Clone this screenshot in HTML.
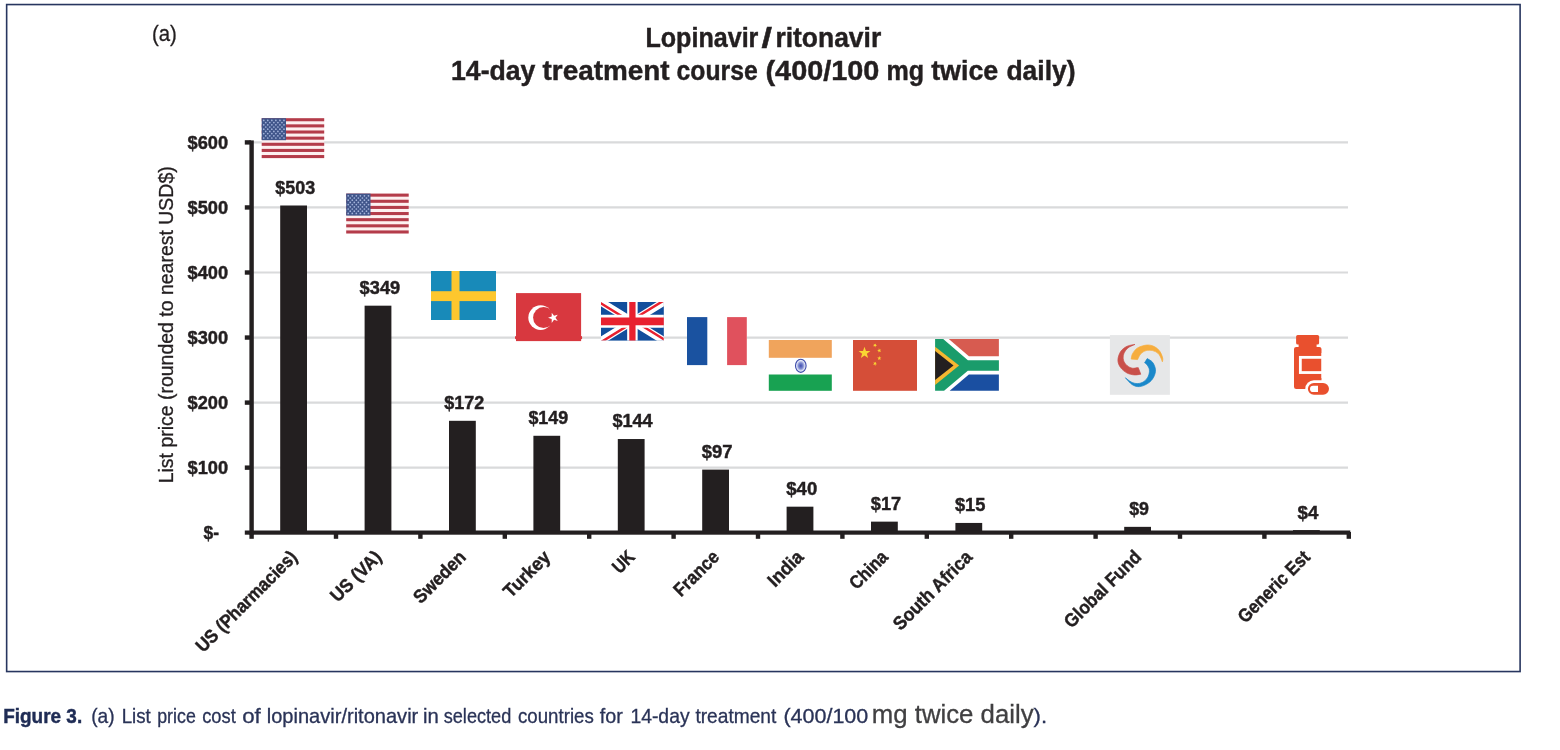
<!DOCTYPE html>
<html lang="en"><head><meta charset="utf-8">
<title>Figure 3. Lopinavir/ritonavir list price</title>
<style>
html,body{margin:0;padding:0;background:#fff;}
body{width:1560px;height:750px;overflow:hidden;}
svg{display:block;}
text{font-family:"Liberation Sans",sans-serif;}
.b{font-weight:bold;stroke-width:0.45px;}
</style></head><body>
<svg width="1560" height="750" viewBox="0 0 1560 750">
<rect x="0" y="0" width="1560" height="750" fill="#fff"/>
<rect x="6.65" y="4.55" width="1513.45" height="667" fill="none" stroke="#27365f" stroke-width="1.6"/>
<g stroke="#d9dadb" stroke-width="2.2">
<line x1="252" y1="467.65" x2="1348" y2="467.65"/>
<line x1="252" y1="402.60" x2="1348" y2="402.60"/>
<line x1="252" y1="337.55" x2="1348" y2="337.55"/>
<line x1="252" y1="272.50" x2="1348" y2="272.50"/>
<line x1="252" y1="207.45" x2="1348" y2="207.45"/>
<line x1="252" y1="142.40" x2="1348" y2="142.40"/>
</g>
<g transform="translate(261.7,118.2)">
<rect width="62.5" height="39.9" fill="#fdf0f0"/>
<rect y="0.00" width="62.5" height="3.07" fill="#b43c4a"/>
<rect y="6.14" width="62.5" height="3.07" fill="#b43c4a"/>
<rect y="12.28" width="62.5" height="3.07" fill="#b43c4a"/>
<rect y="18.42" width="62.5" height="3.07" fill="#b43c4a"/>
<rect y="24.55" width="62.5" height="3.07" fill="#b43c4a"/>
<rect y="30.69" width="62.5" height="3.07" fill="#b43c4a"/>
<rect y="36.83" width="62.5" height="3.07" fill="#b43c4a"/>
<rect width="24.3" height="22.0" fill="#40558a"/>
<g fill="#a3b3da">
<circle cx="2.02" cy="2.20" r="0.85"/>
<circle cx="6.07" cy="2.20" r="0.85"/>
<circle cx="10.12" cy="2.20" r="0.85"/>
<circle cx="14.17" cy="2.20" r="0.85"/>
<circle cx="18.22" cy="2.20" r="0.85"/>
<circle cx="22.27" cy="2.20" r="0.85"/>
<circle cx="4.05" cy="4.40" r="0.85"/>
<circle cx="8.10" cy="4.40" r="0.85"/>
<circle cx="12.15" cy="4.40" r="0.85"/>
<circle cx="16.20" cy="4.40" r="0.85"/>
<circle cx="20.25" cy="4.40" r="0.85"/>
<circle cx="2.02" cy="6.60" r="0.85"/>
<circle cx="6.07" cy="6.60" r="0.85"/>
<circle cx="10.12" cy="6.60" r="0.85"/>
<circle cx="14.17" cy="6.60" r="0.85"/>
<circle cx="18.22" cy="6.60" r="0.85"/>
<circle cx="22.27" cy="6.60" r="0.85"/>
<circle cx="4.05" cy="8.80" r="0.85"/>
<circle cx="8.10" cy="8.80" r="0.85"/>
<circle cx="12.15" cy="8.80" r="0.85"/>
<circle cx="16.20" cy="8.80" r="0.85"/>
<circle cx="20.25" cy="8.80" r="0.85"/>
<circle cx="2.02" cy="11.00" r="0.85"/>
<circle cx="6.07" cy="11.00" r="0.85"/>
<circle cx="10.12" cy="11.00" r="0.85"/>
<circle cx="14.17" cy="11.00" r="0.85"/>
<circle cx="18.22" cy="11.00" r="0.85"/>
<circle cx="22.27" cy="11.00" r="0.85"/>
<circle cx="4.05" cy="13.20" r="0.85"/>
<circle cx="8.10" cy="13.20" r="0.85"/>
<circle cx="12.15" cy="13.20" r="0.85"/>
<circle cx="16.20" cy="13.20" r="0.85"/>
<circle cx="20.25" cy="13.20" r="0.85"/>
<circle cx="2.02" cy="15.40" r="0.85"/>
<circle cx="6.07" cy="15.40" r="0.85"/>
<circle cx="10.12" cy="15.40" r="0.85"/>
<circle cx="14.17" cy="15.40" r="0.85"/>
<circle cx="18.22" cy="15.40" r="0.85"/>
<circle cx="22.27" cy="15.40" r="0.85"/>
<circle cx="4.05" cy="17.60" r="0.85"/>
<circle cx="8.10" cy="17.60" r="0.85"/>
<circle cx="12.15" cy="17.60" r="0.85"/>
<circle cx="16.20" cy="17.60" r="0.85"/>
<circle cx="20.25" cy="17.60" r="0.85"/>
<circle cx="2.02" cy="19.80" r="0.85"/>
<circle cx="6.07" cy="19.80" r="0.85"/>
<circle cx="10.12" cy="19.80" r="0.85"/>
<circle cx="14.17" cy="19.80" r="0.85"/>
<circle cx="18.22" cy="19.80" r="0.85"/>
<circle cx="22.27" cy="19.80" r="0.85"/>
</g></g>
<g transform="translate(346.2,193.6)">
<rect width="62.5" height="39.9" fill="#fdf0f0"/>
<rect y="0.00" width="62.5" height="3.07" fill="#b43c4a"/>
<rect y="6.14" width="62.5" height="3.07" fill="#b43c4a"/>
<rect y="12.28" width="62.5" height="3.07" fill="#b43c4a"/>
<rect y="18.42" width="62.5" height="3.07" fill="#b43c4a"/>
<rect y="24.55" width="62.5" height="3.07" fill="#b43c4a"/>
<rect y="30.69" width="62.5" height="3.07" fill="#b43c4a"/>
<rect y="36.83" width="62.5" height="3.07" fill="#b43c4a"/>
<rect width="24.3" height="22.0" fill="#40558a"/>
<g fill="#a3b3da">
<circle cx="2.02" cy="2.20" r="0.85"/>
<circle cx="6.07" cy="2.20" r="0.85"/>
<circle cx="10.12" cy="2.20" r="0.85"/>
<circle cx="14.17" cy="2.20" r="0.85"/>
<circle cx="18.22" cy="2.20" r="0.85"/>
<circle cx="22.27" cy="2.20" r="0.85"/>
<circle cx="4.05" cy="4.40" r="0.85"/>
<circle cx="8.10" cy="4.40" r="0.85"/>
<circle cx="12.15" cy="4.40" r="0.85"/>
<circle cx="16.20" cy="4.40" r="0.85"/>
<circle cx="20.25" cy="4.40" r="0.85"/>
<circle cx="2.02" cy="6.60" r="0.85"/>
<circle cx="6.07" cy="6.60" r="0.85"/>
<circle cx="10.12" cy="6.60" r="0.85"/>
<circle cx="14.17" cy="6.60" r="0.85"/>
<circle cx="18.22" cy="6.60" r="0.85"/>
<circle cx="22.27" cy="6.60" r="0.85"/>
<circle cx="4.05" cy="8.80" r="0.85"/>
<circle cx="8.10" cy="8.80" r="0.85"/>
<circle cx="12.15" cy="8.80" r="0.85"/>
<circle cx="16.20" cy="8.80" r="0.85"/>
<circle cx="20.25" cy="8.80" r="0.85"/>
<circle cx="2.02" cy="11.00" r="0.85"/>
<circle cx="6.07" cy="11.00" r="0.85"/>
<circle cx="10.12" cy="11.00" r="0.85"/>
<circle cx="14.17" cy="11.00" r="0.85"/>
<circle cx="18.22" cy="11.00" r="0.85"/>
<circle cx="22.27" cy="11.00" r="0.85"/>
<circle cx="4.05" cy="13.20" r="0.85"/>
<circle cx="8.10" cy="13.20" r="0.85"/>
<circle cx="12.15" cy="13.20" r="0.85"/>
<circle cx="16.20" cy="13.20" r="0.85"/>
<circle cx="20.25" cy="13.20" r="0.85"/>
<circle cx="2.02" cy="15.40" r="0.85"/>
<circle cx="6.07" cy="15.40" r="0.85"/>
<circle cx="10.12" cy="15.40" r="0.85"/>
<circle cx="14.17" cy="15.40" r="0.85"/>
<circle cx="18.22" cy="15.40" r="0.85"/>
<circle cx="22.27" cy="15.40" r="0.85"/>
<circle cx="4.05" cy="17.60" r="0.85"/>
<circle cx="8.10" cy="17.60" r="0.85"/>
<circle cx="12.15" cy="17.60" r="0.85"/>
<circle cx="16.20" cy="17.60" r="0.85"/>
<circle cx="20.25" cy="17.60" r="0.85"/>
<circle cx="2.02" cy="19.80" r="0.85"/>
<circle cx="6.07" cy="19.80" r="0.85"/>
<circle cx="10.12" cy="19.80" r="0.85"/>
<circle cx="14.17" cy="19.80" r="0.85"/>
<circle cx="18.22" cy="19.80" r="0.85"/>
<circle cx="22.27" cy="19.80" r="0.85"/>
</g></g>
<g transform="translate(431,271)"><rect width="65" height="49" fill="#188ab9"/><rect x="20.5" width="8" height="49" fill="#fdc72e"/><rect y="20.2" width="65" height="9.9" fill="#fdc72e"/></g>
<g><rect x="516" y="293.1" width="65.1" height="48" fill="#d8383f"/><rect x="515" y="336" width="67.1" height="3.2" rx="1" fill="#d8383f"/><circle cx="540.6" cy="317.6" r="12.3" fill="#fff"/><circle cx="543.6" cy="317.6" r="10.5" fill="#d8383f"/><polygon points="551.73,312.66 554.05,315.80 557.77,314.63 555.50,317.80 557.77,320.97 554.05,319.80 551.73,322.94 551.70,319.03 548.00,317.80 551.70,316.57" fill="#fff"/></g>
<svg x="600.9" y="301.9" width="63" height="38.9" viewBox="0 0 60 30" preserveAspectRatio="none"><clipPath id="ukc"><rect width="60" height="30"/></clipPath><clipPath id="ukt"><path d="M30,15 h30 v15 z v15 h-30 z h-30 v-15 z v-15 h30 z"/></clipPath><g clip-path="url(#ukc)"><rect width="60" height="30" fill="#124e9c"/><path d="M0,0 L60,30 M60,0 L0,30" stroke="#fff" stroke-width="6"/><path d="M0,0 L60,30 M60,0 L0,30" clip-path="url(#ukt)" stroke="#e8212f" stroke-width="4"/><path d="M30,0 v30 M0,15 h60" stroke="#fff" stroke-width="10"/><path d="M30,0 v30 M0,15 h60" stroke="#e8212f" stroke-width="6"/></g></svg>
<g><rect x="687" y="317.1" width="59.8" height="48" fill="#fff"/><rect x="687" y="317.1" width="20.3" height="48" fill="#1a52a0"/><rect x="727.1" y="317.1" width="19.7" height="48" fill="#e0515d"/></g>
<g><rect x="768.8" y="340" width="63" height="50.8" fill="#fff"/><rect x="768.8" y="340" width="63" height="17.8" fill="#f0a45c"/><rect x="768.8" y="374.5" width="63" height="16.3" fill="#18a252"/><radialGradient id="chk"><stop offset="0" stop-color="#3f4db0"/><stop offset="0.45" stop-color="#7f8bd0"/><stop offset="0.8" stop-color="#e4e8f7"/><stop offset="1" stop-color="#e4e8f7"/></radialGradient><ellipse cx="800.8" cy="365.8" rx="5.3" ry="6.6" fill="url(#chk)" stroke="#3d4bab" stroke-width="1.1"/></g>
<g><rect x="853" y="340" width="64" height="50.8" fill="#d54e38"/><polygon points="864.50,346.80 865.97,350.98 870.40,351.08 866.88,353.77 868.14,358.02 864.50,355.50 860.86,358.02 862.12,353.77 858.60,351.08 863.03,350.98" fill="#f9d533"/><polygon points="876.10,343.39 875.82,344.93 877.15,345.76 875.60,345.97 875.23,347.49 874.55,346.08 872.99,346.19 874.12,345.11 873.53,343.67 874.91,344.40" fill="#f9d533"/><polygon points="881.21,349.40 880.20,350.59 880.93,351.97 879.49,351.38 878.41,352.51 878.52,350.95 877.11,350.27 878.63,349.90 878.84,348.35 879.67,349.68" fill="#f9d533"/><polygon points="879.30,356.10 879.83,357.57 881.39,357.62 880.16,358.58 880.59,360.08 879.30,359.20 878.01,360.08 878.44,358.58 877.21,357.62 878.77,357.57" fill="#f9d533"/><polygon points="876.10,361.79 875.82,363.33 877.15,364.16 875.60,364.37 875.23,365.89 874.55,364.48 872.99,364.59 874.12,363.51 873.53,362.07 874.91,362.80" fill="#f9d533"/></g>
<g transform="translate(935.1,339)"><rect width="63.8" height="51.8" fill="#fff"/><polygon points="13.7,0 63.8,0 63.8,17.35 33.8,17.35" fill="#d75b50"/><polygon points="14.6,51.8 63.8,51.8 63.8,35.5 33.8,35.5" fill="#1a4fa1"/><polygon points="0,0 8.1,0 32.8,21.3 63.8,21.3 63.8,31.7 32.7,31.7 9,51.8 0,51.8" fill="#1a9c6b"/><polygon points="0,7.7 24,26.4 0,46" fill="#f5b731"/><polygon points="0,12 18.4,26.4 0,40.9" fill="#231f20"/></g>
<g transform="translate(1109.9,335.1)"><rect width="60" height="59.7" fill="#e6e7e8"/><path d="M25.10,9.30 C23.77,9.62 19.50,10.00 17.10,11.20 C14.70,12.40 12.22,14.18 10.70,16.50 C9.18,18.82 8.00,22.43 8.00,25.10 C8.00,27.77 9.18,30.37 10.70,32.50 C12.22,34.63 14.80,36.68 17.10,37.90 C19.40,39.12 22.20,39.60 24.50,39.80 C26.80,40.00 29.83,39.22 30.90,39.10 L28.30,32.50 C27.32,32.60 24.27,33.45 22.40,33.10 C20.53,32.75 18.57,31.73 17.10,30.40 C15.63,29.07 14.13,27.05 13.60,25.10 C13.07,23.15 13.15,20.75 13.90,18.70 C14.65,16.65 16.23,14.37 18.10,12.80 C19.97,11.23 23.93,9.88 25.10,9.30 Z" fill="#c9504a" stroke="#c9504a" stroke-width="0.7" stroke-linejoin="round"/><path d="M21.30,24.00 C21.52,23.12 21.53,20.57 22.60,18.70 C23.67,16.83 25.25,14.27 27.70,12.80 C30.15,11.33 34.45,10.08 37.30,9.90 C40.15,9.72 42.67,10.60 44.80,11.70 C46.93,12.80 48.77,14.63 50.10,16.50 C51.43,18.37 52.40,21.20 52.80,22.90 C53.20,24.60 52.55,26.07 52.50,26.70 L52.50,26.70 C52.18,25.90 51.35,23.33 50.60,21.90 C49.85,20.47 49.32,19.17 48.00,18.10 C46.68,17.03 44.65,15.93 42.70,15.50 C40.75,15.07 38.27,14.97 36.30,15.50 C34.33,16.03 32.33,17.20 30.90,18.70 C29.47,20.20 28.23,23.53 27.70,24.50 Z" fill="#f6ad3e" stroke="#f6ad3e" stroke-width="0.7" stroke-linejoin="round"/><path d="M37.30,23.50 C38.20,24.12 41.32,25.33 42.70,27.20 C44.08,29.07 45.43,32.22 45.60,34.70 C45.77,37.18 44.90,39.88 43.70,42.10 C42.50,44.32 40.70,46.43 38.40,48.00 C36.10,49.57 32.57,51.23 29.90,51.50 C27.23,51.77 24.80,51.07 22.40,49.60 C20.00,48.13 16.65,43.85 15.50,42.70 L15.50,42.70 C16.47,43.40 19.27,45.93 21.30,46.90 C23.33,47.87 25.57,48.58 27.70,48.50 C29.83,48.42 32.32,47.63 34.10,46.40 C35.88,45.17 37.50,43.05 38.40,41.10 C39.30,39.15 39.68,36.57 39.50,34.70 C39.32,32.83 38.10,31.07 37.30,29.90 C36.50,28.73 35.13,28.07 34.70,27.70 Z" fill="#1a88ca" stroke="#1a88ca" stroke-width="0.7" stroke-linejoin="round"/></g>
<g fill="#e9502e"><rect x="1296.1" y="334.9" width="23" height="9.6" rx="1.6"/><rect x="1298.6" y="343" width="18" height="5"/><rect x="1294" y="346.9" width="27.5" height="42.1" rx="2.2"/><rect x="1300.35" y="357.35" width="23" height="15.2" fill="none" stroke="#fff" stroke-width="2.8"/><rect x="1321.5" y="353" width="6" height="25" fill="#fff"/><rect x="1305.3" y="380.3" width="26.3" height="17.1" rx="8.55" fill="#fff"/><rect x="1307.9" y="382.9" width="21.1" height="11.9" rx="5.95"/><path d="M1318,385.8 h-4.9 a3.1,3.1 0 0 0 0,6.2 h4.9 z" fill="#fff"/></g>
<g fill="#231f20">
<rect x="280.20" y="205.50" width="26.8" height="327.20"/>
<rect x="364.60" y="305.68" width="26.8" height="227.02"/>
<rect x="449.00" y="420.81" width="26.8" height="111.89"/>
<rect x="533.40" y="435.78" width="26.8" height="96.92"/>
<rect x="617.80" y="439.03" width="26.8" height="93.67"/>
<rect x="702.20" y="469.60" width="26.8" height="63.10"/>
<rect x="786.60" y="506.68" width="26.8" height="26.02"/>
<rect x="871.00" y="521.64" width="26.8" height="11.06"/>
<rect x="955.40" y="522.94" width="26.8" height="9.76"/>
<rect x="1124.20" y="526.85" width="26.8" height="5.85"/>
<rect x="1293.00" y="530.10" width="26.8" height="2.60"/>
</g>
<g fill="#231f20">
<rect x="249.4" y="140.4" width="4.4" height="394.3"/>
<rect x="244.8" y="530.5" width="1105.5" height="4.2"/>
<rect x="244.8" y="465.45" width="6" height="4.4"/>
<rect x="244.8" y="400.40" width="6" height="4.4"/>
<rect x="244.8" y="335.35" width="6" height="4.4"/>
<rect x="244.8" y="270.30" width="6" height="4.4"/>
<rect x="244.8" y="205.25" width="6" height="4.4"/>
<rect x="244.8" y="140.20" width="6" height="4.4"/>
<rect x="249.40" y="532" width="4.4" height="6.8"/>
<rect x="333.80" y="532" width="4.4" height="6.8"/>
<rect x="418.20" y="532" width="4.4" height="6.8"/>
<rect x="502.60" y="532" width="4.4" height="6.8"/>
<rect x="587.00" y="532" width="4.4" height="6.8"/>
<rect x="671.40" y="532" width="4.4" height="6.8"/>
<rect x="755.80" y="532" width="4.4" height="6.8"/>
<rect x="840.20" y="532" width="4.4" height="6.8"/>
<rect x="924.60" y="532" width="4.4" height="6.8"/>
<rect x="1009.00" y="532" width="4.4" height="6.8"/>
<rect x="1093.40" y="532" width="4.4" height="6.8"/>
<rect x="1177.80" y="532" width="4.4" height="6.8"/>
<rect x="1262.20" y="532" width="4.4" height="6.8"/>
<rect x="1346.60" y="532" width="4.4" height="6.8"/>
</g>
<text x="152.0" y="40.9" font-size="22" textLength="24.9" lengthAdjust="spacingAndGlyphs" fill="#231f20" stroke="#231f20" stroke-width="0.3">(a)</text>
<text y="46.9" font-size="27.5" class="b" fill="#231f20" stroke="#231f20"><tspan x="645.4" textLength="113" lengthAdjust="spacingAndGlyphs">Lopinavir</tspan><tspan x="761.4" textLength="10.5" lengthAdjust="spacingAndGlyphs">/</tspan><tspan x="775.4" textLength="105.8" lengthAdjust="spacingAndGlyphs">ritonavir</tspan></text>
<text y="79.9" font-size="27.5" class="b" fill="#231f20" stroke="#231f20"><tspan x="451.0" textLength="84.4" lengthAdjust="spacingAndGlyphs">14-day</tspan> <tspan x="542.5" textLength="127.0" lengthAdjust="spacingAndGlyphs">treatment</tspan> <tspan x="676.6" textLength="81.1" lengthAdjust="spacingAndGlyphs">course</tspan> <tspan x="765.5" textLength="113.9" lengthAdjust="spacingAndGlyphs">(400/100</tspan> <tspan x="886.5" textLength="37.6" lengthAdjust="spacingAndGlyphs">mg</tspan> <tspan x="931.2" textLength="67.0" lengthAdjust="spacingAndGlyphs">twice</tspan> <tspan x="1006.4" textLength="69.2" lengthAdjust="spacingAndGlyphs">daily)</tspan></text>
<text x="187.5" y="474.0" font-size="18.7" textLength="40.6" lengthAdjust="spacingAndGlyphs" class="b" fill="#231f20" stroke="#231f20">$100</text>
<text x="187.5" y="408.9" font-size="18.7" textLength="40.6" lengthAdjust="spacingAndGlyphs" class="b" fill="#231f20" stroke="#231f20">$200</text>
<text x="187.5" y="343.9" font-size="18.7" textLength="40.6" lengthAdjust="spacingAndGlyphs" class="b" fill="#231f20" stroke="#231f20">$300</text>
<text x="187.5" y="278.8" font-size="18.7" textLength="40.6" lengthAdjust="spacingAndGlyphs" class="b" fill="#231f20" stroke="#231f20">$400</text>
<text x="187.5" y="213.8" font-size="18.7" textLength="40.6" lengthAdjust="spacingAndGlyphs" class="b" fill="#231f20" stroke="#231f20">$500</text>
<text x="187.5" y="148.7" font-size="18.7" textLength="40.6" lengthAdjust="spacingAndGlyphs" class="b" fill="#231f20" stroke="#231f20">$600</text>
<text x="203.5" y="539.1" font-size="18.7" textLength="15.5" lengthAdjust="spacingAndGlyphs" class="b" fill="#231f20" stroke="#231f20">$-</text>
<text transform="translate(172.8,483.3) rotate(-90)" font-size="19.6" textLength="317" lengthAdjust="spacingAndGlyphs" fill="#231f20" stroke="#231f20" stroke-width="0.3">List price (rounded to nearest USD$)</text>
<text x="275.3" y="193.5" font-size="18.7" textLength="39.8" lengthAdjust="spacingAndGlyphs" class="b" fill="#231f20" stroke="#231f20">$503</text>
<text x="359.6" y="293.6" font-size="18.7" textLength="40.6" lengthAdjust="spacingAndGlyphs" class="b" fill="#231f20" stroke="#231f20">$349</text>
<text x="444.3" y="409.2" font-size="18.7" textLength="40.1" lengthAdjust="spacingAndGlyphs" class="b" fill="#231f20" stroke="#231f20">$172</text>
<text x="528.4" y="423.7" font-size="18.7" textLength="39.8" lengthAdjust="spacingAndGlyphs" class="b" fill="#231f20" stroke="#231f20">$149</text>
<text x="612.4" y="427.2" font-size="18.7" textLength="40.3" lengthAdjust="spacingAndGlyphs" class="b" fill="#231f20" stroke="#231f20">$144</text>
<text x="701.8" y="458.1" font-size="18.7" textLength="30.7" lengthAdjust="spacingAndGlyphs" class="b" fill="#231f20" stroke="#231f20">$97</text>
<text x="786.3" y="494.6" font-size="18.7" textLength="30.9" lengthAdjust="spacingAndGlyphs" class="b" fill="#231f20" stroke="#231f20">$40</text>
<text x="870.8" y="509.6" font-size="18.7" textLength="30.3" lengthAdjust="spacingAndGlyphs" class="b" fill="#231f20" stroke="#231f20">$17</text>
<text x="954.9" y="511" font-size="18.7" textLength="30.5" lengthAdjust="spacingAndGlyphs" class="b" fill="#231f20" stroke="#231f20">$15</text>
<text x="1129.2" y="514.6" font-size="18.7" textLength="19.8" lengthAdjust="spacingAndGlyphs" class="b" fill="#231f20" stroke="#231f20">$9</text>
<text x="1297.5" y="518.5" font-size="18.7" textLength="20.8" lengthAdjust="spacingAndGlyphs" class="b" fill="#231f20" stroke="#231f20">$4</text>
<text transform="translate(298.3,558.2) rotate(-45)" text-anchor="end" font-size="18.7" class="b" textLength="134.5" lengthAdjust="spacingAndGlyphs" fill="#231f20" stroke="#231f20">US (Pharmacies)</text>
<text transform="translate(382.7,558.2) rotate(-45)" text-anchor="end" font-size="18.7" class="b" textLength="63.5" lengthAdjust="spacingAndGlyphs" fill="#231f20" stroke="#231f20">US (VA)</text>
<text transform="translate(467.1,558.2) rotate(-45)" text-anchor="end" font-size="18.7" class="b" textLength="65.5" lengthAdjust="spacingAndGlyphs" fill="#231f20" stroke="#231f20">Sweden</text>
<text transform="translate(551.5,558.2) rotate(-45)" text-anchor="end" font-size="18.7" class="b" textLength="57.5" lengthAdjust="spacingAndGlyphs" fill="#231f20" stroke="#231f20">Turkey</text>
<text transform="translate(635.9,558.2) rotate(-45)" text-anchor="end" font-size="18.7" class="b" textLength="23" lengthAdjust="spacingAndGlyphs" fill="#231f20" stroke="#231f20">UK</text>
<text transform="translate(720.3,558.2) rotate(-45)" text-anchor="end" font-size="18.7" class="b" textLength="55.5" lengthAdjust="spacingAndGlyphs" fill="#231f20" stroke="#231f20">France</text>
<text transform="translate(804.7,558.2) rotate(-45)" text-anchor="end" font-size="18.7" class="b" textLength="42" lengthAdjust="spacingAndGlyphs" fill="#231f20" stroke="#231f20">India</text>
<text transform="translate(889.1,558.2) rotate(-45)" text-anchor="end" font-size="18.7" class="b" textLength="45.8" lengthAdjust="spacingAndGlyphs" fill="#231f20" stroke="#231f20">China</text>
<text transform="translate(973.5,558.2) rotate(-45)" text-anchor="end" font-size="18.7" class="b" textLength="103.3" lengthAdjust="spacingAndGlyphs" fill="#231f20" stroke="#231f20">South Africa</text>
<text transform="translate(1142.3,558.2) rotate(-45)" text-anchor="end" font-size="18.7" class="b" textLength="100" lengthAdjust="spacingAndGlyphs" fill="#231f20" stroke="#231f20">Global Fund</text>
<text transform="translate(1311.1,558.2) rotate(-45)" text-anchor="end" font-size="18.7" class="b" textLength="93.2" lengthAdjust="spacingAndGlyphs" fill="#231f20" stroke="#231f20">Generic Est</text>
<text y="722.5" font-size="20.2" fill="#2a3357" stroke="#2a3357" stroke-width="0.3"><tspan x="3.2" textLength="79" lengthAdjust="spacingAndGlyphs" class="b" fill="#1f2c55" stroke="#1f2c55">Figure 3.</tspan> <tspan x="91.2" textLength="23.4" lengthAdjust="spacingAndGlyphs">(a)</tspan> <tspan x="121.7" textLength="29.1" lengthAdjust="spacingAndGlyphs">List</tspan> <tspan x="157.2" textLength="38.6" lengthAdjust="spacingAndGlyphs">price</tspan> <tspan x="202.2" textLength="33.6" lengthAdjust="spacingAndGlyphs">cost</tspan> <tspan x="242.2" textLength="18.6" lengthAdjust="spacingAndGlyphs">of</tspan> <tspan x="266.7" textLength="151.6" lengthAdjust="spacingAndGlyphs">lopinavir/ritonavir</tspan> <tspan x="423.0" textLength="15.8" lengthAdjust="spacingAndGlyphs">in</tspan> <tspan x="443.7" textLength="67.6" lengthAdjust="spacingAndGlyphs">selected</tspan> <tspan x="518.0" textLength="75.8" lengthAdjust="spacingAndGlyphs">countries</tspan> <tspan x="599.7" textLength="23.1" lengthAdjust="spacingAndGlyphs">for</tspan> <tspan x="630.4" textLength="59.2" lengthAdjust="spacingAndGlyphs">14-day</tspan> <tspan x="695.4" textLength="80.9" lengthAdjust="spacingAndGlyphs">treatment</tspan> <tspan x="783.4" textLength="84.9" lengthAdjust="spacingAndGlyphs">(400/100</tspan> <tspan x="871.8" textLength="161.8" lengthAdjust="spacingAndGlyphs" font-size="26.5" fill="#414042" stroke="#414042">mg twice daily</tspan><tspan x="1033.6" textLength="13.5" lengthAdjust="spacingAndGlyphs">).</tspan></text>
</svg>
</body></html>
